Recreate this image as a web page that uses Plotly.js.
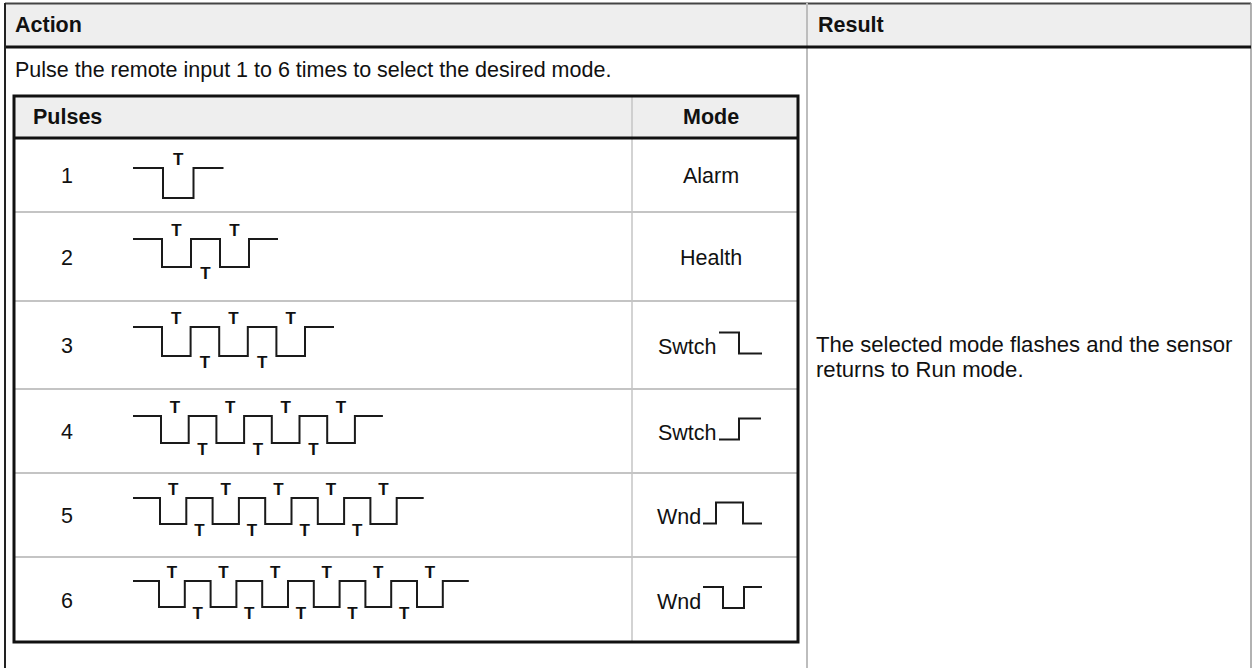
<!DOCTYPE html>
<html><head><meta charset="utf-8">
<script src="https://cdn.plot.ly/plotly-3.0.1.min.js"></script>
<style>html,body{margin:0;padding:0;background:#fff;}#chart{width:1252px;height:668px;}</style>
</head><body><div id="chart"></div>
<script>
// ---------- content ----------
const outerHeaders = ['Action', 'Result'];
const innerHeaders = ['Pulses', 'Mode'];
const instruction = 'Pulse the remote input 1 to 6 times to select the desired mode.';
const resultLines = ['The selected mode flashes and the sensor', 'returns to Run mode.'];
const pulseCounts = [1, 2, 3, 4, 5, 6];
const modeNames = ['Alarm', 'Health', 'Swtch', 'Swtch', 'Wnd', 'Wnd'];
const modeIcons = ['', '', 'HL', 'LH', 'LHL', 'HLH'];
const pulseLabel = 'T';

// ---------- geometry / style ----------
const W = 1252, H = 668;
const FONT = 'Liberation Sans, Arial, sans-serif';
const FS = 21.5;
const INK = '#111';
const GRID = '#c4c4c4';
const HEAD_BG = '#eeeeee';
const rowEdges = [138, 212, 301, 389, 473, 557, 642];
const waveX0 = 133;
const waveLead = [30, 29, 29, 28, 27, 26];
const waveHalf = [30.5, 29, 28.6, 27.7, 26.3, 25.8];
const waveTop = [168, 239, 327, 416, 498, 581];
const waveAmp = [30, 28, 29, 27, 26, 26];
const iconStart = {Swtch: 719, Wnd: 703};
const iconSegs = {HL: [20, 23], LH: [20, 22], LHL: [13, 27, 19], HLH: [20, 21, 18]};

const rowCenter = i => (rowEdges[i] + rowEdges[i + 1]) / 2;

// ---------- waveforms ----------
const wx = [], wy = [];
const tx = [], ty = [];
pulseCounts.forEach((n, i) => {
  const top = waveTop[i], low = top + waveAmp[i], h = waveHalf[i];
  let x = waveX0;
  wx.push(x); wy.push(top);
  x += waveLead[i];
  wx.push(x); wy.push(top);
  for (let k = 0; k < n; k++) {
    wx.push(x); wy.push(low);
    tx.push(x + h / 2); ty.push(top - 7.5);
    x += h;
    wx.push(x); wy.push(low);
    wx.push(x); wy.push(top);
    if (k < n - 1) {
      tx.push(x + h / 2); ty.push(low + 7.5);
      x += h;
      wx.push(x); wy.push(top);
    }
  }
  x += waveLead[i];
  wx.push(x); wy.push(top);
  wx.push(null); wy.push(null);
});

// ---------- mode icons ----------
const ix = [], iy = [];
modeIcons.forEach((pat, i) => {
  if (!pat) return;
  const c = rowCenter(i);
  const hi = c - 12.5, lo = c + 8.5;
  let x = iconStart[modeNames[i]];
  const segs = iconSegs[pat];
  for (let k = 0; k < pat.length; k++) {
    const yv = pat[k] === 'H' ? hi : lo;
    ix.push(x); iy.push(yv);
    x += segs[k];
    ix.push(x); iy.push(yv);
  }
  ix.push(null); iy.push(null);
});

const traces = [
  {x: wx, y: wy, mode: 'lines', line: {color: '#1a1a1a', width: 2}, hoverinfo: 'skip'},
  {x: ix, y: iy, mode: 'lines', line: {color: '#1a1a1a', width: 2}, hoverinfo: 'skip'},
  {x: tx, y: ty, mode: 'text', text: tx.map(() => pulseLabel), textposition: 'middle center',
   textfont: {family: FONT, size: 17, color: INK, weight: 'bold'}, hoverinfo: 'skip'}
];

// ---------- table shapes ----------
const line = (x0, y0, x1, y1, color, width) => ({type: 'line', xref: 'x', yref: 'y', x0, y0, x1, y1, line: {color, width}});
const shapes = [
  {type: 'rect', xref: 'x', yref: 'y', x0: 5, x1: 1251, y0: 3, y1: 47, fillcolor: HEAD_BG, line: {width: 0}, layer: 'below'},
  {type: 'rect', xref: 'x', yref: 'y', x0: 14, x1: 798, y0: 96, y1: 138, fillcolor: HEAD_BG, line: {width: 0}, layer: 'below'},
  line(5, 3.5, 1251, 3.5, '#444', 2),
  line(807, 3, 807, H, '#bdbdbd', 2),
  line(1251, 3, 1251, H, '#999', 1.5),
  line(5, 47, 1251, 47, INK, 3),
  line(5, 3, 5, H, '#222', 2),
  line(632, 96, 632, 642, GRID, 1.5)
];
for (let i = 1; i < rowEdges.length - 1; i++) shapes.push(line(14, rowEdges[i], 798, rowEdges[i], GRID, 2));
shapes.push(line(14, 138, 798, 138, INK, 3));
shapes.push({type: 'rect', xref: 'x', yref: 'y', x0: 14, x1: 798, y0: 96, y1: 642, line: {color: INK, width: 3}});

// ---------- text ----------
const ann = (text, x, y, xanchor, bold, size) => ({
  text, x, y, xref: 'x', yref: 'y', xanchor, yanchor: 'middle', showarrow: false, borderpad: 0,
  font: {family: FONT, size: size || FS, color: INK, weight: bold ? 'bold' : 'normal'}
});
const annotations = [
  ann(outerHeaders[0], 14, 25, 'left', true),
  ann(outerHeaders[1], 817, 25, 'left', true),
  ann(instruction, 14, 70, 'left', false),
  ann(innerHeaders[0], 32, 117, 'left', true),
  ann(innerHeaders[1], 711, 117, 'center', true),
  ann(resultLines[0], 815, 344.5, 'left', false, 22.1),
  ann(resultLines[1], 815, 369.5, 'left', false, 22.1)
];
pulseCounts.forEach((n, i) => {
  const c = rowCenter(i) + 1;
  annotations.push(ann(String(n), 67, c, 'center', false));
  if (modeIcons[i]) {
    annotations.push(ann(modeNames[i], iconStart[modeNames[i]] - 1, c + 1, 'right', false));
  } else {
    annotations.push(ann(modeNames[i], 711, c, 'center', false));
  }
});

const layout = {
  width: W, height: H, margin: {l: 0, r: 0, t: 0, b: 0},
  paper_bgcolor: '#fff', plot_bgcolor: '#fff', showlegend: false,
  xaxis: {range: [0, W], visible: false, fixedrange: true},
  yaxis: {range: [H, 0], visible: false, fixedrange: true},
  shapes, annotations
};
Plotly.newPlot('chart', traces, layout, {staticPlot: true, displayModeBar: false});
</script></body></html>
